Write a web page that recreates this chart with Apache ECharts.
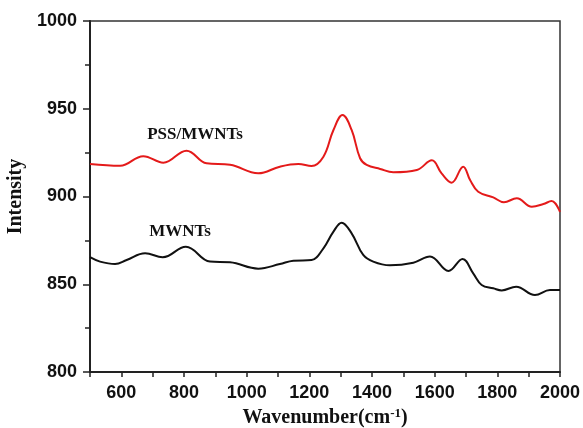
<!DOCTYPE html>
<html lang="en">

<head>
    <meta charset="UTF-8">
    <title>Raman</title>
    <script src="https://cdn.jsdelivr.net/npm/echarts@6/dist/echarts.min.js"></script>
    <style>
        body { margin: 0; background: #fff; }
    </style>
</head>

<body>
    <div id="main" style="width: 583px;height:428px;"></div>
    <script>
        // wavenumber / intensity
        let pssX = [500, 596, 670, 734, 808, 872, 947, 1037, 1106, 1165, 1207, 1245, 1277, 1306, 1335, 1362, 1383, 1426, 1468, 1543, 1591, 1622, 1654, 1691, 1713, 1739, 1787, 1821, 1862, 1910, 1947, 1973, 2000]
        let pssY = [918.5, 917.5, 923, 919.3, 926.1, 918.9, 918.1, 913.2, 917, 918.5, 917.4, 922.7, 937.9, 946.4, 937.9, 921.8, 918, 915.7, 913.8, 915.1, 920.6, 913.2, 907.9, 917, 909.4, 902.7, 899.5, 896.7, 899, 894.2, 895.7, 897.4, 891.3]
        let mwX = [500, 532, 580, 617, 676, 732, 806, 883, 947, 1037, 1106, 1149, 1207, 1245, 1277, 1303, 1335, 1372, 1404, 1457, 1532, 1585, 1644, 1689, 1723, 1750, 1787, 1814, 1860, 1920, 1968, 2000]
        let mwY = [865.4, 862.9, 861.5, 863.8, 867.6, 865.4, 871.4, 862.9, 862.5, 858.9, 861.5, 863.4, 863.8, 870.5, 880, 885.1, 879, 866.7, 862.9, 860.8, 862.3, 865.8, 857.6, 864.4, 856.2, 849.6, 847.7, 846.5, 848.6, 843.9, 846.7, 846.7]

        var chartDom = document.getElementById('main');
        var myChart = echarts.init(chartDom);
        var option;

        const pair = (xs, ys) => xs.map((x, i) => [x, ys[i]]);
        const tickFont = { fontFamily: 'Liberation Sans', fontWeight: 'bold', fontSize: 18, color: '#111' };
        const nameFont = { fontFamily: 'Liberation Serif', fontWeight: 'bold', fontSize: 20, color: '#111' };

        option = {
            backgroundColor: '#fff',
            animation: false,
            grid: {
                left: 90,
                top: 21,
                right: 23,
                bottom: 56,
                outerBoundsMode: 'none',
                containLabel: false,
                show: true,
                borderColor: '#333',
                borderWidth: 1.5
            },
            xAxis: {
                type: 'value',
                min: 500,
                max: 2000,
                interval: 100,
                name: '{b|Wavenumber(cm}{s|-1}{b|)}',
                nameLocation: 'middle',
                nameGap: 33,
                nameTextStyle: {
                    rich: {
                        b: nameFont,
                        s: { fontFamily: 'Liberation Serif', fontWeight: 'bold', fontSize: 13, color: '#111', verticalAlign: 'top', padding: [0, 0, 8, 0] }
                    }
                },
                axisLine: { lineStyle: { color: '#222', width: 2 } },
                axisTick: { inside: false, length: 5, lineStyle: { color: '#222', width: 1.5 } },
                axisLabel: Object.assign({
                    margin: 12,
                    formatter: v => (v % 200 === 0 ? String(v) : '')
                }, tickFont),
                splitLine: { show: false }
            },
            yAxis: {
                type: 'value',
                min: 800,
                max: 1000,
                interval: 50,
                name: 'Intensity',
                nameLocation: 'middle',
                nameGap: 62,
                nameTextStyle: nameFont,
                axisLine: { show: true, lineStyle: { color: '#222', width: 2 } },
                axisTick: { show: true, length: 7, lineStyle: { color: '#222', width: 1.5 } },
                minorTick: { show: true, splitNumber: 2, length: 5, lineStyle: { color: '#222', width: 1.5 } },
                axisLabel: Object.assign({ margin: 13, formatter: v => String(v) }, tickFont),
                splitLine: { show: false }
            },
            graphic: [
                { type: 'text', x: 195, y: 135, style: { text: 'PSS/MWNTs', font: 'bold 17px "Liberation Serif"', fill: '#111', align: 'center', verticalAlign: 'middle' } },
                { type: 'text', x: 180, y: 232, style: { text: 'MWNTs', font: 'bold 17px "Liberation Serif"', fill: '#111', align: 'center', verticalAlign: 'middle' } }
            ],
            series: [
                {
                    name: 'PSS/MWNTs',
                    type: 'line',
                    data: pair(pssX, pssY),
                    smooth: 0.4,
                    showSymbol: false,
                    lineStyle: { color: '#e41a1a', width: 2 }
                },
                {
                    name: 'MWNTs',
                    type: 'line',
                    data: pair(mwX, mwY),
                    smooth: 0.4,
                    showSymbol: false,
                    lineStyle: { color: '#111', width: 2 }
                }
            ]
        };

        option && myChart.setOption(option);
    </script>
</body>

</html>
